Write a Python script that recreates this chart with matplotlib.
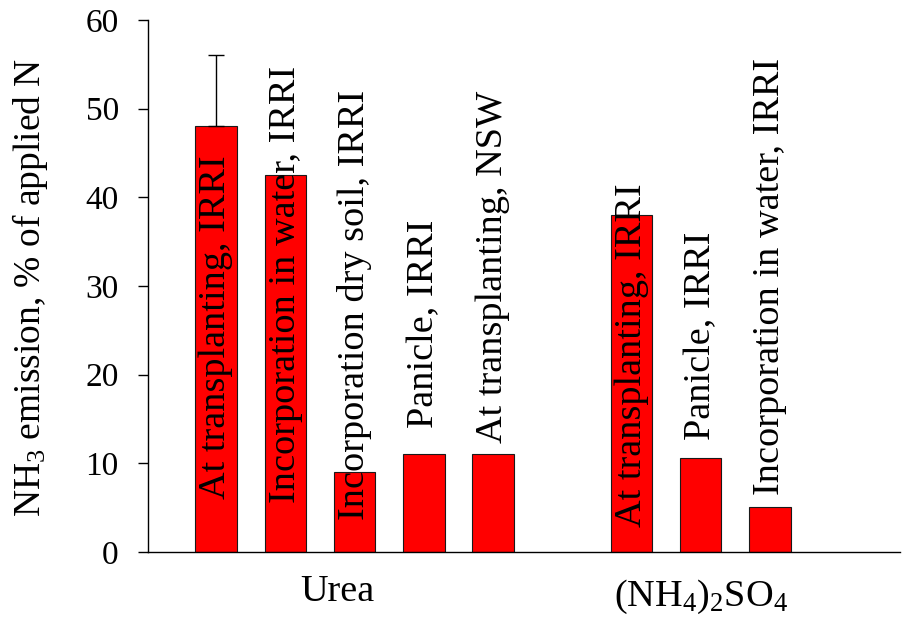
import matplotlib
matplotlib.use("Agg")
import matplotlib.pyplot as plt
from matplotlib.transforms import blended_transform_factory

plt.rcParams['font.family'] = ['Liberation Serif', 'DejaVu Serif']
plt.rcParams['mathtext.fontset'] = 'custom'
plt.rcParams['mathtext.rm'] = 'Liberation Serif'
plt.rcParams['mathtext.it'] = 'Liberation Serif:italic'

# ---- data ----
bar_labels = ["At transplanting, IRRI", "Incorporation in water, IRRI",
              "Incorporation dry soil, IRRI", "Panicle, IRRI",
              "At transplanting, NSW",
              "At transplanting, IRRI", "Panicle, IRRI",
              "Incorporation in water, IRRI"]
bar_values = [48, 42.5, 9, 11, 11, 38, 10.6, 5.1]
bar_err_upper = [8, 0, 0, 0, 0, 0, 0, 0]
groups = ["Urea", "(NH$_\\mathregular{4}$)$_\\mathregular{2}$SO$_\\mathregular{4}$"]
y_ticks = [0, 10, 20, 30, 40, 50, 60]

# ---- layout (positions only) ----
bar_x = [0, 1, 2, 3, 4, 6, 7, 8]
label_y = [6.0, 5.5, 3.6, 14.0, 12.3, 2.8, 12.6, 6.4]
group_x = [1.75, 7.0]
group_y = [-0.092, -0.1015]

fig = plt.figure(figsize=(9.05, 6.2), dpi=100)
ax = fig.add_axes([148/905, 1-552/620, (900-148)/905, (552-20)/620])

ax.bar(bar_x, bar_values, width=0.6, color='#FF0000', edgecolor='#1a1a1a',
       linewidth=0.8, zorder=2)
ax.errorbar([bar_x[0]], [bar_values[0]], yerr=[[0], [bar_err_upper[0]]],
            fmt='none', ecolor='black', elinewidth=1.0, capsize=5.8,
            capthick=1.0, zorder=3)

for x, y, t in zip(bar_x, label_y, bar_labels):
    ax.text(x, y, t, rotation=90, ha='center', va='bottom', fontsize=27.5,
            zorder=4)

trans = blended_transform_factory(ax.transData, ax.transAxes)
for x, y, g in zip(group_x, group_y, groups):
    ax.text(x, y, g, transform=trans, ha='center', va='baseline',
            fontsize=27.5, clip_on=False)

ax.set_xlim(-0.986, 9.88)
ax.set_ylim(0, 60)
ax.set_yticks(y_ticks)
ax.set_xticks([])
ax.tick_params(axis='y', direction='out', length=7, width=1, pad=14,
               labelsize=24)
for s in ['top', 'right']:
    ax.spines[s].set_visible(False)
for s in ['left', 'bottom']:
    ax.spines[s].set_linewidth(1.0)

fig.text(30/905, 1-287/620, "NH$_\\mathregular{3}$ emission, % of applied N",
         rotation=90, ha='center', va='center', fontsize=27)

fig.savefig("out.png", dpi=100)
